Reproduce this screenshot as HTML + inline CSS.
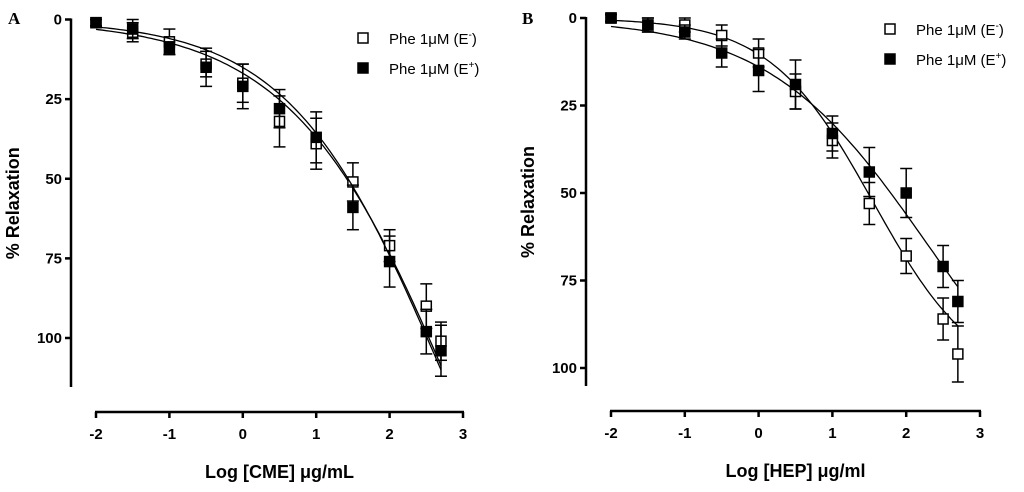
<!DOCTYPE html>
<html><head><meta charset="utf-8"><style>
body{margin:0;background:#fff}
svg text{font-family:"Liberation Sans",sans-serif}
</style></head><body>
<svg id="s" width="1024" height="487" viewBox="0 0 1024 487"></svg>
<script>
const xs=[-2,-1.5,-1,-0.5,0,0.5,1,1.5,2,2.5,2.7];
const xTicks=[-2,-1,0,1,2,3];
const yTicks=[0,25,50,75,100];
const aEminus=[1,4,7,14,20,32,39,51,71,90,101];
const aEminusErr=[1,3,4,4,6,8,8,6,5,7,6];
const aEplus=[1,3,9,15,21,28,37,59,76,98,104];
const aEplusErr=[1,3,2,6,7,6,8,7,8,7,8];
const bEminus=[0,2,2,5,10,21,35,53,68,86,96];
const bEminusErr=[1,2,2,3,4,5,5,6,5,6,8];
const bEplus=[0,2,4,10,15,19,33,44,50,71,81];
const bEplusErr=[1,2,2,4,6,7,5,7,7,6,6];
// Hill fit params [bottom, logEC50, slope]
const aFitMinus=[250,3.0,0.38], aFitPlus=[220,2.7,0.42];
const bFitMinus=[105,1.55,0.62], bFitPlus=[130,2.3,0.4];

const svg=document.getElementById('s');
const NS='http://www.w3.org/2000/svg';
function mk(t,a,p){const e=document.createElementNS(NS,t);for(const k in a)e.setAttribute(k,a[k]);(p||svg).appendChild(e);return e;}
function hill(p,x){return p[0]/(1+Math.pow(10,(p[1]-x)*p[2]));}

function panel(cfg){
  const g=mk('g',{});
  
  
  const X=v=>cfg.x0+(v+2)*(cfg.x3-cfg.x0)/5;
  const Y=v=>cfg.y0+v*(cfg.y100-cfg.y0)/100;
  const ya=mk('line',{x1:cfg.ax,y1:cfg.y0-1,x2:cfg.ax,y2:cfg.yEnd,stroke:'#000','stroke-width':2.5},g);
  
  yTicks.forEach(t=>{
    mk('line',{x1:cfg.ax-6,y1:Y(t),x2:cfg.ax,y2:Y(t),stroke:'#000','stroke-width':2.5},g);
    const tx=mk('text',{x:cfg.ax-9,y:Y(t)+5,'text-anchor':'end','font-size':15,'font-weight':'bold'},g);
    tx.textContent=t;
    
  });
  const xa=mk('line',{x1:X(-2)-1,y1:cfg.xy,x2:X(3)+1,y2:cfg.xy,stroke:'#000','stroke-width':2.5},g);
  
  xTicks.forEach(t=>{
    mk('line',{x1:X(t),y1:cfg.xy,x2:X(t),y2:cfg.xy+6,stroke:'#000','stroke-width':2.5},g);
    const tx=mk('text',{x:X(t),y:cfg.xy+27,'text-anchor':'middle','font-size':15,'font-weight':'bold'},g);
    tx.textContent=t;
    
  });
  const yt=mk('text',{x:0,y:0,transform:`translate(${cfg.ax-52},${(cfg.y0+cfg.yEnd)/2}) rotate(-90)`,'text-anchor':'middle','font-size':18,'font-weight':'bold'},g);
  yt.textContent='% Relaxation';
  
  const xt=mk('text',{x:(X(-2)+X(3))/2,y:cfg.xy+66,'text-anchor':'middle','font-size':18,'font-weight':'bold'},g);
  xt.innerHTML=cfg.xtitle;
  
  const pl=mk('text',{x:cfg.lx,y:24,'font-size':17,'font-weight':'bold'},g);
  pl.textContent=cfg.letter;pl.setAttribute('style','font-family:"Liberation Serif",serif');
  
  cfg.series.forEach(s=>{
    const sg=mk('g',{},g);
    
    let d='';
    for(let i=0;i<=100;i++){const x=-2+4.7*i/100;d+=(i?'L':'M')+X(x).toFixed(1)+','+Y(hill(s.fit,x)).toFixed(1);}
    const c=mk('path',{d:d,fill:'none',stroke:'#000','stroke-width':1.3},sg);
    
    xs.forEach((x,i)=>{
      const v=s.vals[i],e=s.err[i],px=X(x);
      mk('line',{x1:px,y1:Y(v-e),x2:px,y2:Y(v+e),stroke:'#000','stroke-width':1.5},sg);
      mk('line',{x1:px-6,y1:Y(v-e),x2:px+6,y2:Y(v-e),stroke:'#000','stroke-width':1.5},sg);
      mk('line',{x1:px-6,y1:Y(v+e),x2:px+6,y2:Y(v+e),stroke:'#000','stroke-width':1.5},sg);
      const m=mk('rect',{x:px-5,y:Y(v)-5,width:10,height:10,fill:s.filled?'#000':'#fff',stroke:'#000','stroke-width':1.5},sg);
      
    });
  });
  cfg.series.forEach((s,i)=>{
    const ly=cfg.legY+i*30;
    const lg=mk('g',{},g);
    
    mk('rect',{x:cfg.legX-5,y:ly-5,width:10,height:10,fill:s.filled?'#000':'#fff',stroke:'#000','stroke-width':1.5},lg);
    const t=mk('text',{x:cfg.legX+26,y:ly+6,'font-size':15},lg);
    t.innerHTML='Phe 1μM (E<tspan dy="-6" font-size="10">'+(s.filled?'+':'-')+'</tspan><tspan dy="6">)</tspan>';
  });
}
panel({name:'panel-a-chart',letter:'A',lx:8,ax:71,y0:19.5,y100:338,yEnd:387,xy:412,x0:96,x3:463,legX:363,legY:38,
  xtitle:'Log [CME] μg/mL',series:[
  {name:'series-e-minus',vals:aEminus,err:aEminusErr,fit:aFitMinus,filled:false},
  {name:'series-e-plus',vals:aEplus,err:aEplusErr,fit:aFitPlus,filled:true}]});
panel({name:'panel-b-chart',letter:'B',lx:522,ax:586,y0:18,y100:368,yEnd:386,xy:411,x0:611,x3:980,legX:890,legY:29,
  xtitle:'Log [HEP] μg/ml',series:[
  {name:'series-e-minus',vals:bEminus,err:bEminusErr,fit:bFitMinus,filled:false},
  {name:'series-e-plus',vals:bEplus,err:bEplusErr,fit:bFitPlus,filled:true}]});
</script>
</body></html>
